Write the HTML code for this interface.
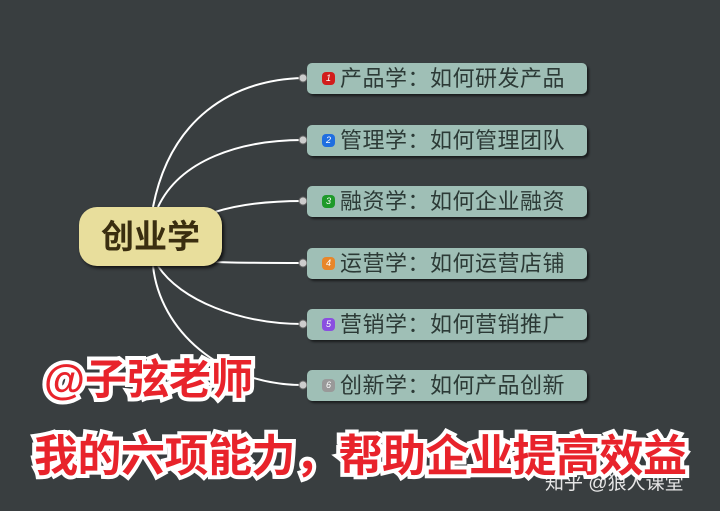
<!DOCTYPE html>
<html><head><meta charset="utf-8"><style>
body{margin:0;width:720px;height:511px;overflow:hidden;background:#393e40;font-family:"Liberation Sans","Noto Sans CJK SC",sans-serif;}
.box{position:absolute;left:307px;width:280px;height:31px;background:#9fbfb6;border-radius:5px;box-shadow:2px 2px 2px #1a1d1e;color:#2c3a36;font-size:22px;line-height:31px;box-sizing:border-box;padding-left:33px;letter-spacing:0.5px;white-space:nowrap;}
.ic{position:absolute;left:15px;top:9px;width:13px;height:13px;border-radius:4px;color:#fff;font-size:9px;line-height:13px;text-align:center;font-style:italic;letter-spacing:0;}
.center{position:absolute;left:79px;top:207px;width:143px;height:59px;background:#e8de9c;border-radius:18px;box-shadow:2px 2px 3px #111;text-align:center;line-height:59px;font-size:33px;font-weight:bold;color:#3a2e10;}
.red{position:absolute;color:#e8232b;font-weight:bold;-webkit-text-stroke:8px #fff;paint-order:stroke fill;white-space:nowrap;}
</style></head><body>
<svg width="720" height="511" style="position:absolute;left:0;top:0">
<g fill="none" stroke="#fff" stroke-width="2">
<path d="M153 207 C170 120 230 80 303 78"/>
<path d="M158 207 C180 160 240 140 303 140"/>
<path d="M215 212 C240 204 270 201 303 201"/>
<path d="M215 262 C240 263 270 263 303 263"/>
<path d="M158 266 C180 300 240 324 303 324"/>
<path d="M153 266 C160 330 220 385 303 385"/>
</g>
<g fill="#ccc" stroke="#666" stroke-width="1">
<circle cx="303" cy="78" r="4"/><circle cx="303" cy="140" r="4"/><circle cx="303" cy="201" r="4"/><circle cx="303" cy="263" r="4"/><circle cx="303" cy="324" r="4"/><circle cx="303" cy="385" r="4"/>
</g>
</svg>
<div class="center">创业学</div>
<div class="box" style="top:63px"><span class="ic" style="background:#d21c1c">1</span>产品学：如何研发产品</div>
<div class="box" style="top:125px"><span class="ic" style="background:#1f6ee0">2</span>管理学：如何管理团队</div>
<div class="box" style="top:186px"><span class="ic" style="background:#1e9a2a">3</span>融资学：如何企业融资</div>
<div class="box" style="top:248px"><span class="ic" style="background:#e8862a">4</span>运营学：如何运营店铺</div>
<div class="box" style="top:309px"><span class="ic" style="background:#8a4fe0">5</span>营销学：如何营销推广</div>
<div class="box" style="top:370px"><span class="ic" style="background:#999">6</span>创新学：如何产品创新</div>
<div class="red" style="left:44px;top:346px;font-size:42px;">@子弦老师</div>
<div style="position:absolute;left:545px;top:468px;font-size:19px;color:#e6e6e6;">知乎 @狼人课堂</div>
<div class="red" style="left:34px;top:420px;font-size:44px;letter-spacing:-0.5px;">我的六项能力，帮助企业提高效益</div>
</body></html>
